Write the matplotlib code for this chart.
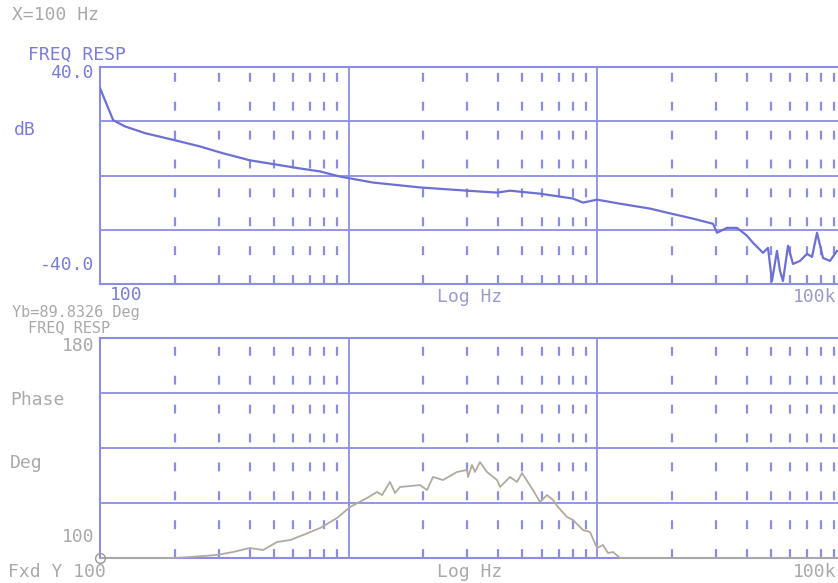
import numpy as np
import matplotlib.pyplot as plt
from matplotlib.ticker import FixedLocator, NullFormatter

# magnitude trace (Hz, dB)
mag_f = [100, 113, 126, 152, 200, 253, 304, 401, 506, 638, 768, 925, 1255, 1940,
         3000, 3960, 4466, 5897, 8008, 8785, 10000, 12380, 16350, 19130, 24340,
         29300, 30400, 33340, 36600, 40150, 42440, 46560, 48770, 50600, 53000,
         54500, 56030, 58700, 61470, 65600, 69990, 73330, 76800, 81200, 86600, 92430]
mag_db = [32.2, 20.4, 18.1, 15.6, 13.0, 10.7, 8.5, 5.6, 4.1, 2.6, 1.5, -0.4, -2.6, -4.4,
          -5.6, -6.3, -5.6, -6.7, -8.5, -10.0, -8.9, -10.4, -12.2, -13.7, -15.9,
          -17.8, -21.1, -19.3, -19.3, -22.2, -24.8, -28.5, -26.7, -38.9, -27.8,
          -35.2, -38.9, -25.9, -32.6, -31.5, -28.9, -30.0, -21.1, -30.4, -31.5, -27.8]

# phase trace (Hz, deg)
ph_f = [100, 197, 230, 296, 343, 401, 453, 516, 582, 656, 768, 899, 1014, 1187,
        1302, 1364, 1469, 1539, 1612, 1940, 2070, 2188, 2401, 2733, 3000, 3027,
        3141, 3229, 3382, 3608, 3960, 4072, 4466, 4765, 4992, 5527, 5897, 6292,
        6652, 6966, 7573, 8008, 8785, 9372, 10000, 10570, 11070, 11600, 12380, 95000]
ph_deg = [0, 0, 0.8, 2.5, 4.9, 8.2, 6.5, 13.1, 14.7, 18.8, 24.5, 32.7, 41.7, 49.1,
          54.0, 51.5, 62.2, 53.2, 58.1, 59.7, 55.6, 66.3, 63.8, 70.4, 72.0, 66.3,
          76.1, 70.4, 78.5, 70.4, 63.8, 58.1, 66.3, 62.2, 69.5, 55.6, 45.8, 51.5,
          47.5, 41.7, 33.5, 31.1, 22.9, 21.3, 8.2, 10.6, 4.1, 4.9, 0, 0]

grid_c = '#8a8de0'
mag_c = '#6c70d2'
ph_c = '#b0aaa0'
blue_t = '#7a7ed4'
gray_t = '#a9a9a9'
mono = 'DejaVu Sans Mono'

W, H = 838, 583
fig = plt.figure(figsize=(W / 100, H / 100), dpi=100)

def px(x, y):
    return x / W, 1 - y / H

xmax = 10 ** (2 + 738 / 248.5)
majors = [100, 1000, 10000]
minors = [m * d for d in [100, 1000, 10000] for m in range(2, 10)]

def setup(ax, ylim, yticks):
    ax.set_xscale('log')
    ax.set_xlim(100, xmax)
    ax.set_ylim(*ylim)
    ax.xaxis.set_major_locator(FixedLocator(majors))
    ax.xaxis.set_minor_locator(FixedLocator(minors))
    ax.xaxis.set_major_formatter(NullFormatter())
    ax.xaxis.set_minor_formatter(NullFormatter())
    ax.set_yticks(yticks)
    ax.set_yticklabels([])
    ax.tick_params(which='both', length=0)
    ax.grid(True, which='major', color=grid_c, lw=1.3)
    ax.grid(True, which='minor', axis='x', color=grid_c, lw=1.6, linestyle=(0, (4, 9)))
    for s in ['left', 'bottom', 'top']:
        ax.spines[s].set_color(grid_c)
        ax.spines[s].set_linewidth(1.5)
    ax.spines['right'].set_visible(False)

# top panel
l, b = px(100, 284)
ax1 = fig.add_axes([l, b, 1 - l, 217 / H])
setup(ax1, (-40, 40), [-40, -20, 0, 20, 40])
ax1.plot(mag_f, mag_db, color=mag_c, lw=1.6, zorder=3)

# bottom panel
l, b = px(100, 558)
ax2 = fig.add_axes([l, b, 1 - l, 220 / H])
setup(ax2, (0, 180), [0, 45, 90, 135, 180])
ax2.plot(ph_f, ph_deg, color=ph_c, lw=1.3, zorder=3, clip_on=False)
ax2.plot([100], [0], 'o', mfc='none', mec='#999999', ms=7, clip_on=False, zorder=4)

def label(x, y, s, c, ha='left', fs=13):
    fig.text(*px(x, y), s, color=c, ha=ha, va='center', family=mono, fontsize=fs)

label(12, 15, 'X=100 Hz', gray_t)
label(28, 55, 'FREQ RESP', blue_t)
label(94, 73, '40.0', blue_t, 'right')
label(14, 130, 'dB', blue_t)
label(94, 265, '-40.0', blue_t, 'right')
label(110, 295, '100', blue_t)
label(470, 297, 'Log Hz', '#9a9cc8', 'center')
label(836, 297, '100k', '#9a9cc8', 'right')
label(12, 312, 'Yb=89.8326 Deg', gray_t, fs=11)
label(28, 328, 'FREQ RESP', gray_t, fs=11)
label(94, 346, '180', gray_t, 'right')
label(10, 400, 'Phase', gray_t)
label(10, 463, 'Deg', gray_t)
label(94, 537, '100', gray_t, 'right')
label(8, 572, 'Fxd Y 100', gray_t)
label(470, 572, 'Log Hz', gray_t, 'center')
label(836, 572, '100k', gray_t, 'right')

fig.savefig('out.png', dpi=100)
